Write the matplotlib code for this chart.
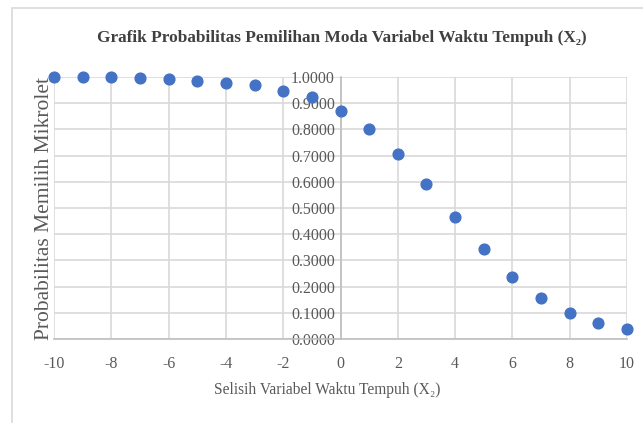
import matplotlib
matplotlib.use('Agg')
from matplotlib import pyplot as plt
from matplotlib.patches import Rectangle
from matplotlib.ticker import MultipleLocator, FormatStrFormatter

# selisih waktu tempuh vs probabilitas memilih mikrolet
selisih = [-10, -9, -8, -7, -6, -5, -4, -3, -2, -1, 0, 1, 2, 3, 4, 5, 6, 7, 8, 9, 10]
probabilitas = [0.9998, 0.9996, 0.9993, 0.9968, 0.9930, 0.9860, 0.9780, 0.9680, 0.9480, 0.9220,
                0.8710, 0.8000, 0.7070, 0.5920, 0.4670, 0.3440, 0.2380, 0.1580, 0.0990, 0.0600, 0.0370]

FONT = 'Liberation Serif'
TEXT = '#595959'
GRID = '#d9d9d9'
BLUE = '#4472c4'

plt.rcParams['axes.unicode_minus'] = False

def main():
    W, H = 643, 423
    fig = plt.figure(figsize=(W / 100, H / 100), dpi=100)

    # chart area frame
    fig.patches.append(Rectangle((12 / W, -0.1), 1.2, 1.1 - 8 / H, transform=fig.transFigure,
                                 fill=False, edgecolor='#d9d9d9', linewidth=1.2))

    ax = fig.add_axes([54 / W, 1 - 339 / H, (627 - 54) / W, (339 - 77) / H])
    ax.scatter(selisih, probabilitas, s=60, color=BLUE, zorder=3, clip_on=False)

    ax.set_xlim(-10, 10)
    ax.set_ylim(0, 1)
    ax.xaxis.set_major_locator(MultipleLocator(2))
    ax.yaxis.set_major_locator(MultipleLocator(0.1))
    ax.yaxis.set_major_formatter(FormatStrFormatter('%.4f'))
    ax.grid(True, color=GRID, linewidth=1.2, zorder=0)
    ax.set_axisbelow(True)

    for s in ['top', 'right']:
        ax.spines[s].set_visible(False)
    ax.spines['left'].set_position(('data', 0))
    ax.spines['left'].set_color('#bfbfbf')
    ax.spines['bottom'].set_color('#bfbfbf')
    ax.spines['left'].set_linewidth(1.2)
    ax.spines['bottom'].set_linewidth(1.2)
    ax.tick_params(length=0, labelcolor=TEXT, labelsize=11.5)
    ax.tick_params(axis='x', pad=12)
    ax.tick_params(axis='y', pad=4)
    for lab in ax.get_xticklabels() + ax.get_yticklabels():
        lab.set_family(FONT)

    fig.text(342 / W, 1 - 38 / H, 'Grafik Probabilitas Pemilihan Moda Variabel Waktu Tempuh (X\u2082)',
             ha='center', va='center', family=FONT, fontweight='bold', fontsize=12.4, color='#404040')
    fig.text(327 / W, 1 - 390 / H, 'Selisih Variabel Waktu Tempuh (X\u2082)',
             ha='center', va='center', family=FONT, fontsize=11.2, color=TEXT)
    fig.text(45 / W, 1 - 208 / H, 'Probabilitas Memilih Mikrolet', rotation=90,
             ha='center', va='center', family=FONT, fontsize=15.5, color=TEXT)

    fig.savefig('out.png', dpi=100)

if __name__ == '__main__':
    main()
